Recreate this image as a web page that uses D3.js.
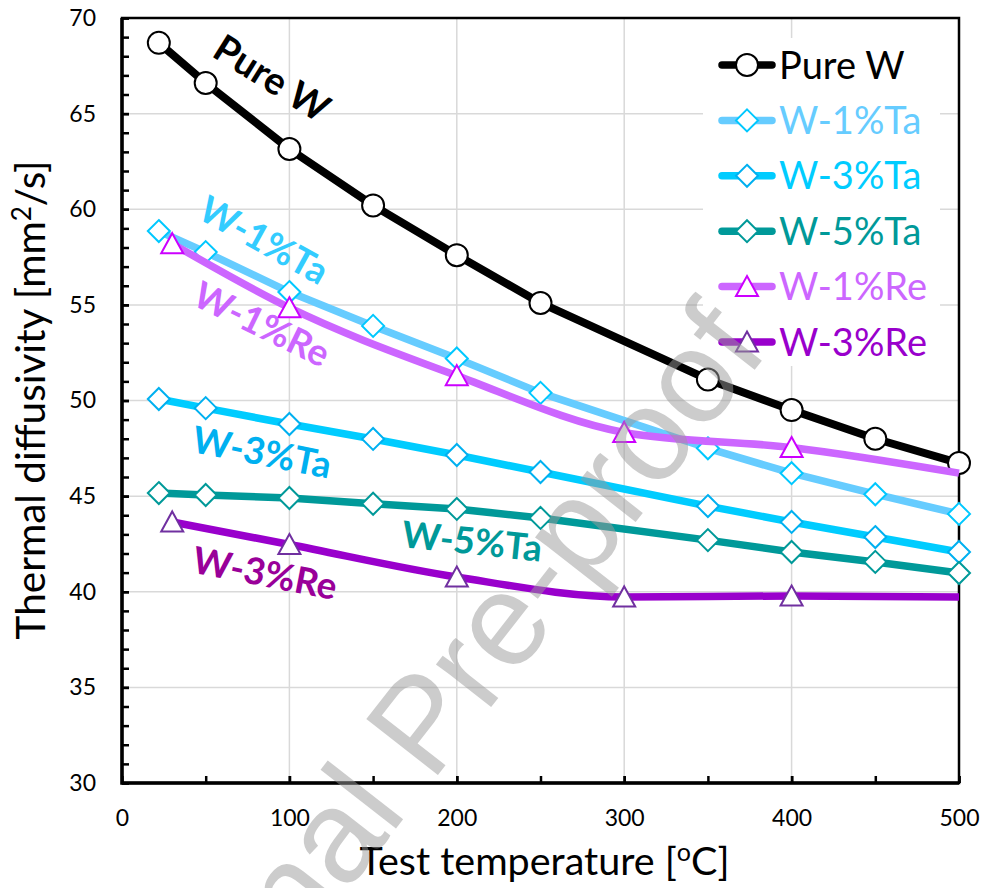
<!DOCTYPE html>
<meta charset="utf-8">
<style>
body { margin: 0; background: #fff; }
svg { display: block; font-family: Lato, "Open Sans", sans-serif; }
</style>
<body>
<script src="https://cdn.jsdelivr.net/npm/d3@7"></script>
<script>

var width = 983,
    height = 888;

// temperatures (oC)
var taTemps = [22, 50, 100, 150, 200, 250, 350, 400, 450, 500];
var reTemps = [30, 100, 200, 300, 400, 500];

// thermal diffusivity (mm2/s)
var pureW = [68.7, 66.6, 63.15, 60.2, 57.6, 55.1, 51.1, 49.5, 48.0, 46.73];
var w1Ta = [58.86, 57.76, 55.67, 53.9, 52.2, 50.4, 47.5, 46.2, 45.1, 44.07];
var w3Ta = [50.08, 49.6, 48.77, 47.99, 47.15, 46.26, 44.48, 43.65, 42.86, 42.08];
var w5Ta = [45.16, 45.06, 44.9, 44.6, 44.33, 43.86, 42.7, 42.08, 41.56, 40.98];
var w1Re = [58.2, 54.85, 51.3, 48.33, 47.54, 46.2];
var w3Re = [43.65, 42.47, 40.77, 39.73, 39.78, 39.73];

var xTicks = [0, 100, 200, 300, 400, 500];
var yTicks = [30, 35, 40, 45, 50, 55, 60, 65, 70];

var series = [
  {name: "Pure W", t: taTemps, v: pureW, line: "#000", mark: "#000", text: "#000", shape: "circle", smooth: false, markLast: true},
  {name: "W-1%Ta", t: taTemps, v: w1Ta, line: "#66ccff", mark: "#00c8ff", text: "#66ccff", shape: "diamond", smooth: false, markLast: true},
  {name: "W-3%Ta", t: taTemps, v: w3Ta, line: "#00ccff", mark: "#00b0f0", text: "#00ccff", shape: "diamond", smooth: false, markLast: true},
  {name: "W-5%Ta", t: taTemps, v: w5Ta, line: "#009999", mark: "#009999", text: "#009999", shape: "diamond", smooth: false, markLast: true},
  {name: "W-1%Re", t: reTemps, v: w1Re, line: "#cc66ff", mark: "#cc00ff", text: "#cc66ff", shape: "triangle", smooth: true, markLast: false},
  {name: "W-3%Re", t: reTemps, v: w3Re, line: "#9900cc", mark: "#7030a0", text: "#9900cc", shape: "triangle", smooth: true, markLast: false}
];

// in-plot labels
var notes = [
  {text: "Pure W", x: 272, y: 78, a: 32, c: "#000", s: 38},
  {text: "W-1%Ta", x: 264, y: 240, a: 29, c: "#33ccff", s: 37},
  {text: "W-1%Re", x: 262, y: 324, a: 26, c: "#cc66ff", s: 37},
  {text: "W-3%Ta", x: 262, y: 452, a: 11, c: "#00b0f0", s: 37},
  {text: "W-5%Ta", x: 472, y: 541, a: 6, c: "#009999", s: 37},
  {text: "W-3%Re", x: 265, y: 573, a: 11, c: "#990099", s: 37}
];

var x = d3.scaleLinear().domain([0, 500]).range([122, 959]),
    y = d3.scaleLinear().domain([30, 70]).range([783, 18]);

var svg = d3.select("body").append("svg")
    .attr("width", width)
    .attr("height", height);

// grid
svg.append("g").selectAll("line")
  .data([100, 200, 300, 400])
  .join("line")
    .attr("x1", d => x(d)).attr("x2", d => x(d))
    .attr("y1", y(30)).attr("y2", y(70))
    .attr("stroke", "#d9d9d9").attr("stroke-width", 1.5);

svg.append("g").selectAll("line")
  .data([35, 40, 45, 50, 55, 60, 65])
  .join("line")
    .attr("x1", x(0)).attr("x2", x(500))
    .attr("y1", d => y(d)).attr("y2", d => y(d))
    .attr("stroke", "#d9d9d9").attr("stroke-width", 1.5);

// legend background hides grid behind it
svg.append("rect")
    .attr("x", 703).attr("y", 38)
    .attr("width", 237).attr("height", 328)
    .attr("fill", "#fff");

// axes
var yAxis = d3.axisLeft(y).tickValues(yTicks).tickSizeInner(-7).tickSizeOuter(0).tickPadding(26);
var yMinor = d3.axisLeft(y).tickValues(d3.range(30, 71, 1)).tickSizeInner(-7).tickSizeOuter(0).tickFormat("");
var xAxis = d3.axisBottom(x).tickValues(xTicks).tickSizeInner(-7).tickSizeOuter(0).tickPadding(27);
var xMinor = d3.axisBottom(x).tickValues(d3.range(50, 501, 50)).tickSizeInner(-7).tickSizeOuter(0).tickFormat("");

function styleAxis(g) {
  g.select(".domain").remove();
  g.selectAll("line").attr("stroke", "#000").attr("stroke-width", 2.5);
  g.selectAll("text").attr("fill", "#000").style("font-size", "23px").style("font-family", "Lato, sans-serif");
}

svg.append("g").attr("transform", "translate(" + x(0) + ",0)").call(yMinor).call(styleAxis);
svg.append("g").attr("transform", "translate(" + x(0) + ",0)").call(yAxis).call(styleAxis);
svg.append("g").attr("transform", "translate(0," + y(30) + ")").call(xMinor).call(styleAxis);
svg.append("g").attr("transform", "translate(0," + y(30) + ")").call(xAxis).call(styleAxis);

// frame
svg.append("rect")
    .attr("x", x(0)).attr("y", y(70))
    .attr("width", x(500) - x(0)).attr("height", y(30) - y(70))
    .attr("fill", "none").attr("stroke", "#000").attr("stroke-width", 2.5);
svg.append("path")
    .attr("d", "M" + x(0) + "," + y(70) + "V" + y(30) + "H" + x(500))
    .attr("fill", "none").attr("stroke", "#000").attr("stroke-width", 3.5);

// markers
function drawMarker(g, shape, color) {
  if (shape == "circle") {
    g.append("circle").attr("r", 11)
        .attr("fill", "#fff").attr("stroke", color).attr("stroke-width", 2);
  } else if (shape == "diamond") {
    g.append("path").attr("d", "M0,-11L11,0L0,11L-11,0Z")
        .attr("fill", "#fff").attr("stroke", color).attr("stroke-width", 2);
  } else {
    g.append("path").attr("d", "M0,-10.5L11,9.5L-11,9.5Z")
        .attr("fill", "#fff").attr("stroke", color).attr("stroke-width", 2);
  }
}

series.forEach(function(s) {
  var pts = s.t.map((t, i) => [t, s.v[i]]);
  var line = d3.line()
      .x(d => x(d[0]))
      .y(d => y(d[1]))
      .curve(s.smooth ? d3.curveMonotoneX : d3.curveLinear);

  svg.append("path")
      .datum(pts)
      .attr("d", line)
      .attr("fill", "none")
      .attr("stroke", s.line)
      .attr("stroke-width", s.name == "Pure W" ? 8 : 7.5)
      .attr("stroke-linejoin", "round");

  var mpts = s.markLast ? pts : pts.slice(0, -1);
  mpts.forEach(function(d) {
    var g = svg.append("g").attr("transform", "translate(" + x(d[0]) + "," + y(d[1]) + ")");
    drawMarker(g, s.shape, s.mark);
  });
});

// legend
var legend = svg.append("g");
series.forEach(function(s, i) {
  var ly = 65 + i * 55.4;
  legend.append("line")
      .attr("x1", 722).attr("x2", 772)
      .attr("y1", ly).attr("y2", ly)
      .attr("stroke", s.line).attr("stroke-width", 7.5)
      .attr("stroke-linecap", "round");
  var g = legend.append("g").attr("transform", "translate(747," + ly + ")");
  drawMarker(g, s.shape, s.mark);
  legend.append("text")
      .attr("x", 779).attr("y", ly)
      .attr("dy", "0.36em")
      .attr("fill", s.text)
      .style("font-size", "38px")
      .text(s.name);
});

// curve labels
svg.append("g").selectAll("text")
  .data(notes)
  .join("text")
    .attr("transform", d => "translate(" + d.x + "," + d.y + ") rotate(" + d.a + ")")
    .attr("text-anchor", "middle")
    .attr("dy", "0.36em")
    .attr("fill", d => d.c)
    .style("font-size", d => d.s + "px")
    .style("font-weight", "bold")
    .text(d => d.text);

// axis titles
svg.append("text")
    .attr("x", (x(0) + x(500)) / 2 + 4)
    .attr("y", 875)
    .attr("text-anchor", "middle")
    .style("font-size", "39.5px")
    .html("Test temperature [<tspan dy='-14' style='font-size:25px'>o</tspan><tspan dy='14'>C]</tspan>");

svg.append("text")
    .attr("transform", "translate(45,400) rotate(-90)")
    .attr("text-anchor", "middle")
    .style("font-size", "40.5px")
    .html("Thermal diffusivity [mm<tspan dy='-14' style='font-size:26px'>2</tspan><tspan dy='14'>/s]</tspan>");

// watermark
svg.append("text")
    .attr("transform", "translate(770,350) rotate(-52)")
    .attr("text-anchor", "end")
    .attr("fill", "#9a9a9a")
    .attr("opacity", 0.5)
    .style("font-family", "'Liberation Sans', Arial, sans-serif")
    .style("font-size", "132px")
    .text("Journal Pre-proof");

</script>
</body>
